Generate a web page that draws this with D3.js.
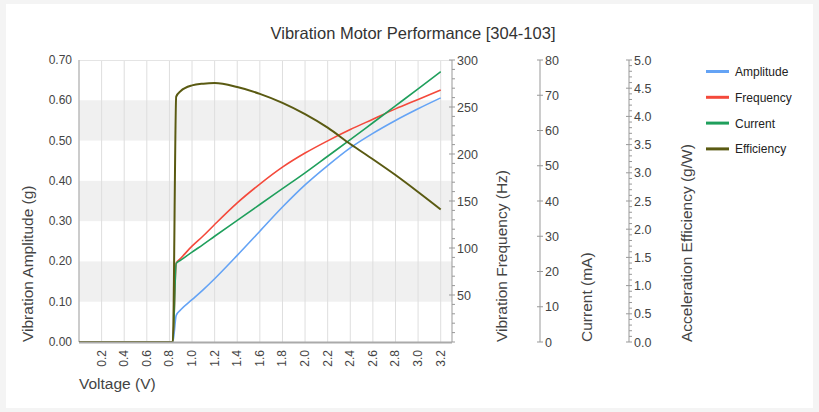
<!DOCTYPE html>
<html lang="en">
<head>
<meta charset="UTF-8">
<title>Vibration Motor Performance [304-103]</title>
<script src="https://cdn.jsdelivr.net/npm/d3@7/dist/d3.min.js"></script>
<style>
    body { margin: 0; background: #f4f4f4; }
    svg { display: block; font-family: Arial, 'Liberation Sans', sans-serif; }
    .tick-label { font-size: 12px; fill: #444; }
    .axis-title { font-size: 15.5px; fill: #444; }
    .series { fill: none; stroke-linejoin: round; }
</style>
</head>
<body>
<div id="chart"></div>
<script>
// data (voltage in V)
const voltage    = [0, 0.2, 0.4, 0.6, 0.8, 0.83, 0.86, 0.9, 1.0, 1.1, 1.2, 1.4, 1.6, 1.8, 2.0, 2.2, 2.4, 2.6, 2.8, 3.0, 3.2];
const amplitude  = [0, 0, 0, 0, 0, 0, 0.066, 0.080, 0.105, 0.130, 0.157, 0.215, 0.275, 0.335, 0.390, 0.438, 0.482, 0.518, 0.550, 0.579, 0.606];
const frequency  = [0, 0, 0, 0, 0, 0, 84, 89, 102, 113, 125, 148, 168, 186, 201, 214, 226, 237, 248, 258, 268];
const current    = [0, 0, 0, 0, 0, 0, 22.3, 23.2, 25.5, 27.7, 30.0, 34.5, 39.0, 43.5, 48.0, 52.7, 57.4, 62.2, 67.0, 71.8, 76.7];
const efficiency = [0, 0, 0, 0, 0, 0, 4.35, 4.45, 4.55, 4.58, 4.59, 4.52, 4.40, 4.24, 4.04, 3.80, 3.51, 3.24, 2.96, 2.66, 2.35];

const xTicks    = d3.range(1, 17).map(i => i * 0.2);
const ampTicks  = [0, 0.1, 0.2, 0.3, 0.4, 0.5, 0.6, 0.7];
const freqTicks = [50, 100, 150, 200, 250, 300];
const curTicks  = [0, 10, 20, 30, 40, 50, 60, 70, 80];
const effTicks  = d3.range(0, 11).map(i => i * 0.5);

const seriesNames  = ["Amplitude", "Frequency", "Current", "Efficiency"];
const seriesColors = ["#64a3f5", "#f4493b", "#1f9f5c", "#5a5a12"];

const W = 819, H = 412;
const pLeft = 79, pRight = 452, pTop = 60, pBottom = 342;

const svg = d3.select("#chart").append("svg")
    .attr("width", W).attr("height", H);

// card
svg.append("rect").attr("x", 6).attr("y", 4).attr("width", W - 12).attr("height", H - 8).attr("fill", "#fff");

const x = d3.scaleLinear().domain([0, 3.3]).range([pLeft, pRight]);
const yAmp  = d3.scaleLinear().domain([0, 0.7]).range([pBottom, pTop]);
const yFreq = d3.scaleLinear().domain([0, 300]).range([pBottom, pTop]);
const yCur  = d3.scaleLinear().domain([0, 80]).range([pBottom, pTop]);
const yEff  = d3.scaleLinear().domain([0, 5]).range([pBottom, pTop]);

// alternating bands
[[0.1, 0.2], [0.3, 0.4], [0.5, 0.6]].forEach(b => {
    svg.append("rect")
        .attr("x", pLeft).attr("width", pRight - pLeft)
        .attr("y", yAmp(b[1])).attr("height", yAmp(b[0]) - yAmp(b[1]))
        .attr("fill", "#f0f0f0");
});

// vertical grid
svg.selectAll(".vgrid").data(xTicks).join("line")
    .attr("x1", d => x(d)).attr("x2", d => x(d))
    .attr("y1", pTop).attr("y2", pBottom)
    .attr("stroke", "#dedede").attr("stroke-width", 1);
svg.append("line").attr("x1", pLeft).attr("x2", pRight).attr("y1", pTop + 0.5).attr("y2", pTop + 0.5)
    .attr("stroke", "#e4e4e4");

// left axis
svg.append("line").attr("x1", pLeft).attr("x2", pLeft).attr("y1", pTop).attr("y2", pBottom)
    .attr("stroke", "#bbb").attr("stroke-width", 1.5);
svg.selectAll(".ampLabel").data(ampTicks).join("text")
    .attr("class", "tick-label")
    .attr("x", pLeft - 7).attr("y", d => yAmp(d) + 4)
    .attr("text-anchor", "end")
    .text(d => d.toFixed(2));

// bottom axis labels
svg.selectAll(".xLabel").data(xTicks).join("text")
    .attr("class", "tick-label")
    .attr("transform", d => `translate(${x(d) + 4},350) rotate(-90)`)
    .attr("text-anchor", "end")
    .text(d => d.toFixed(1));

// series (smoothed like the original)
const lineData = [amplitude, frequency, current, efficiency];
const yScales = [yAmp, yFreq, yCur, yEff];
lineData.forEach((vals, i) => {
    const line = d3.line()
        .curve(d3.curveMonotoneX)
        .x((d, j) => x(voltage[j]))
        .y(d => yScales[i](d));
    svg.append("path")
        .attr("class", "series")
        .attr("d", line(vals))
        .attr("stroke", seriesColors[i])
        .attr("stroke-width", i === 3 ? 2 : 1.6);
});

svg.append("line").attr("x1", pLeft).attr("x2", pRight).attr("y1", pBottom + 0.5).attr("y2", pBottom + 0.5)
    .attr("stroke", "#aaa").attr("stroke-width", 2);

// right axes
function rightAxis(xPos, scale, major, minorStep, fmt) {
    const g = svg.append("g");
    g.append("line").attr("x1", xPos).attr("x2", xPos).attr("y1", pTop).attr("y2", pBottom)
        .attr("stroke", "#999");
    const dom = scale.domain();
    const minor = d3.range(dom[0], dom[1] + minorStep / 2, minorStep);
    g.selectAll(".minor").data(minor).join("line")
        .attr("x1", xPos).attr("x2", xPos + 3)
        .attr("y1", d => scale(d)).attr("y2", d => scale(d))
        .attr("stroke", "#999");
    g.selectAll(".major").data(major).join("line")
        .attr("x1", xPos - 3).attr("x2", xPos)
        .attr("y1", d => scale(d)).attr("y2", d => scale(d))
        .attr("stroke", "#999");
    g.selectAll("text").data(major).join("text")
        .attr("class", "tick-label")
        .style("font-size", "12.5px")
        .attr("x", xPos + 5).attr("y", d => scale(d) + 4.5)
        .text(fmt);
}
rightAxis(452, yFreq, freqTicks, 10, d => d);
rightAxis(540, yCur, curTicks, 10, d => d);
rightAxis(629, yEff, effTicks, 0.1, d => d.toFixed(1));

// axis titles
const titles = [
    ["Vibration Amplitude (g)", 33],
    ["Vibration Frequency (Hz)", 507],
    ["Current (mA)", 592],
    ["Acceleration Efficiency (g/W)", 692]
];
titles.forEach(t => {
    svg.append("text")
        .attr("class", "axis-title")
        .attr("transform", `translate(${t[1]},${pBottom}) rotate(-90)`)
        .text(t[0]);
});
svg.append("text").attr("class", "axis-title")
    .attr("x", pLeft).attr("y", 389).text("Voltage (V)");

// title
svg.append("text")
    .attr("x", 413).attr("y", 39)
    .attr("text-anchor", "middle")
    .style("font-size", "16.5px").style("fill", "#333")
    .text("Vibration Motor Performance [304-103]");

// legend
const legend = svg.selectAll(".legend").data(seriesNames).join("g")
    .attr("transform", (d, i) => `translate(706,${71.5 + i * 25.8})`);
legend.append("line")
    .attr("x1", 0).attr("x2", 23)
    .attr("stroke", (d, i) => seriesColors[i]).attr("stroke-width", 3);
legend.append("text")
    .attr("x", 29).attr("y", 4.5)
    .style("font-size", "12px").style("fill", "#222")
    .text(d => d);
</script>
</body>
</html>
